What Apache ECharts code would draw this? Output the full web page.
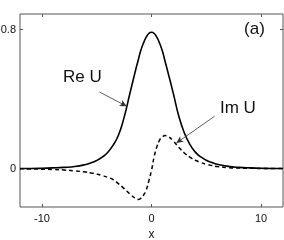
<!DOCTYPE html>
<html><head><meta charset="utf-8">
<script src="https://cdn.jsdelivr.net/npm/echarts@6/dist/echarts.min.js"></script>
<style>html,body{margin:0;padding:0;background:#fff}#c{width:284px;height:240px}</style>
</head><body><div id="c"></div>
<script>
const xs  = [-12,-11,-10,-9,-8,-7,-6,-5.5,-5,-4.5,-4,-3.5,-3,-2.5,-2,-1.5,-1.25,-1,-0.75,-0.5,-0.25,0,0.25,0.5,0.75,1,1.25,1.5,2,2.5,3,3.5,4,4.5,5,5.5,6,7,8,9,10,11,12];
const reU = [0.001,0.001,0.002,0.004,0.007,0.012,0.024,0.034,0.047,0.066,0.093,0.135,0.195,0.295,0.425,0.555,0.615,0.675,0.72,0.755,0.778,0.785,0.778,0.755,0.72,0.675,0.615,0.555,0.43,0.30,0.205,0.14,0.095,0.067,0.048,0.035,0.025,0.013,0.007,0.004,0.002,0.001,0.001];
const imU = [-0.001,-0.002,-0.003,-0.005,-0.008,-0.013,-0.020,-0.025,-0.031,-0.040,-0.050,-0.063,-0.088,-0.115,-0.145,-0.170,-0.178,-0.172,-0.155,-0.125,-0.072,-0.01,0.07,0.128,0.165,0.183,0.19,0.186,0.158,0.122,0.09,0.066,0.048,0.035,0.025,0.018,0.012,0.006,0.003,0.002,0.001,0.001,0.0];
const xTicks = [-10, 0, 10];
const yTicks = [0, 0.8];
const xRange = [-12, 12];
const yRange = [-0.221, 0.89];
const xName = 'x';
const annotations = [
  {text: 'Re U', at: [-6.3, 0.528], from: [-4.75, 0.441], to: [-2.26, 0.359]},
  {text: 'Im U', at: [7.88, 0.345], from: [5.75, 0.301], to: [2.26, 0.147]},
  {text: '(a)', at: [9.4, 0.80]}
];

const FONT = 'Liberation Sans';
const chart = echarts.init(document.getElementById('c'), null, {renderer: 'canvas'});
const frame = '#555';
function tick(vals) {
  return {show: true, inside: true, length: 3, customValues: vals, lineStyle: {color: frame, width: 1}};
}
function axisCommon(extra) {
  return Object.assign({
    type: 'value',
    axisLine: {show: false, onZero: false},
    splitLine: {show: false},
    axisLabel: {show: false}
  }, extra);
}
const reData = xs.map((x, i) => [x, reU[i]]);
const imData = xs.map((x, i) => [x, imU[i]]);
chart.setOption({
  animation: false,
  grid: {left: 20, right: 1, top: 14, bottom: 33, containLabel: false, outerBoundsMode: 'none',
         show: true, borderColor: frame, borderWidth: 1, backgroundColor: 'transparent'},
  xAxis: [
    axisCommon({min: xRange[0], max: xRange[1], position: 'bottom', name: xName, nameLocation: 'middle', nameGap: 21,
      nameTextStyle: {fontFamily: FONT, fontSize: 12, color: '#111'},
      axisTick: tick(xTicks),
      axisLabel: {show: true, customValues: xTicks, margin: 6, fontFamily: FONT, fontSize: 11, color: '#111', formatter: v => String(v)}}),
    axisCommon({min: xRange[0], max: xRange[1], position: 'top', axisTick: tick(xTicks)})
  ],
  yAxis: [
    axisCommon({min: yRange[0], max: yRange[1], position: 'left', axisTick: tick(yTicks),
      axisLabel: {show: true, customValues: yTicks, margin: 4, fontFamily: FONT, fontSize: 11, color: '#111', formatter: v => String(v)}}),
    axisCommon({min: yRange[0], max: yRange[1], position: 'right', axisTick: tick(yTicks)})
  ],
  series: [
    {type: 'line', data: reData, smooth: true, showSymbol: false, symbol: 'none', lineStyle: {color: '#000', width: 1.6}, z: 3,
     markLine: {silent: true, symbol: ['none', 'arrow'], symbolSize: [5, 7], label: {show: false},
       lineStyle: {color: '#333', width: 0.8, type: 'solid'},
       data: annotations.filter(a => a.from).map(a => [{coord: a.from}, {coord: a.to}])}},
    {type: 'line', data: imData, smooth: true, showSymbol: false, symbol: 'none', lineStyle: {color: '#000', width: 1.5, type: [4, 3]}, z: 2}
  ]
});
const g = annotations.map(a => {
  const p = chart.convertToPixel({xAxisIndex: 0, yAxisIndex: 0}, a.at);
  return {type: 'text', x: p[0], y: p[1], style: {text: a.text, fontFamily: FONT, fontSize: 17, fill: '#111', align: 'center', verticalAlign: 'middle'}};
});
chart.setOption({graphic: g});
</script></body></html>
